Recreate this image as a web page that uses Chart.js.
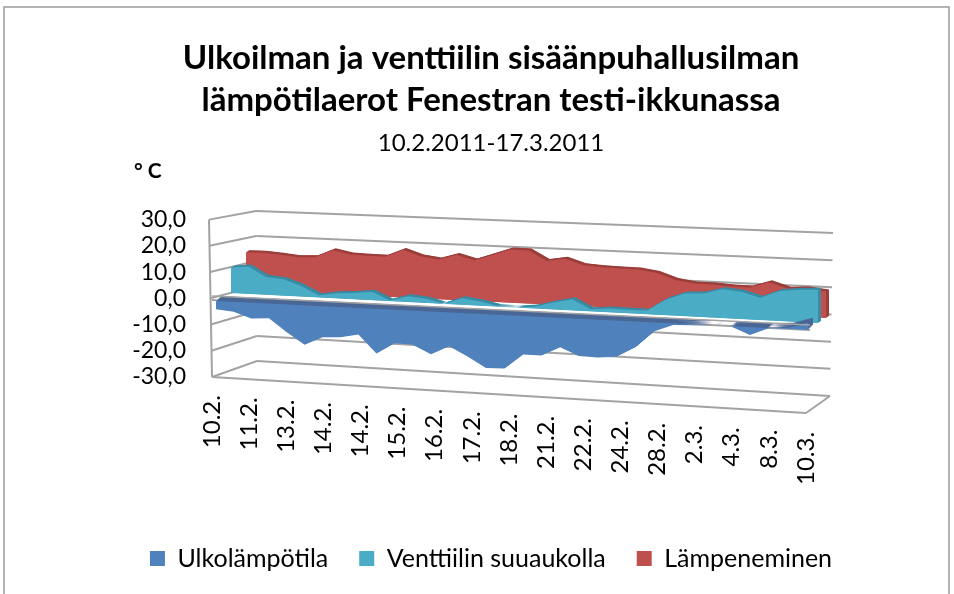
<!DOCTYPE html>
<html>
<head>
<meta charset="utf-8">
<title>Lämpötilaerot</title>
<script src="https://cdn.jsdelivr.net/npm/chart.js@4"></script>
<style>
  html, body { margin: 0; padding: 0; background: #fff; }
  #wrap { width: 954px; height: 594px; }
</style>
</head>
<body>
<div id="wrap"><canvas id="chart" width="954" height="594"></canvas></div>
<script>
// data, every second category has a label
const categories = ['10.2.', '', '11.2.', '', '13.2.', '', '14.2.', '', '14.2.', '', '15.2.', '', '16.2.', '', '17.2.', '', '18.2.', '',
  '21.2.', '', '22.2.', '', '24.2.', '', '28.2.', '', '2.3.', '', '4.3.', '', '8.3.', '', '10.3.'];
const ulkolampotila = [-3.1, -3.8, -6, -5.6, -10.5, -14.9, -11.7, -11.4, -10, -16.8, -12.6, -12.8, -16, -12.6, -16.1, -20, -19.9,
  -14.3, -14.3, -10.9, -13.8, -14, -13.3, -9.5, -3.2, -0.6, -0.3, 0, 0, -2.9, 0, 0.5, 2.6];
const venttiili = [9.7, 10.4, 6.8, 6.2, 4, 0.8, 1.9, 2.4, 3.2, 0.2, 2.2, 1.6, 0, 2.5, 1.6, 0.2, 0, 0.8, 2.6, 4.1, 0.8, 1.4, 1.3, 1.3,
  5.7, 8.3, 8.7, 10.6, 10, 8.1, 10.9, 11.7, 12.1];
const lampeneminen = [14.4, 14.5, 14, 13.4, 13.7, 16.6, 15.3, 15.1, 15.1, 17.9, 15.8, 14.9, 16.9, 15.2, 17.5, 19.9, 19.8, 16.2, 17.3,
  15.2, 14.8, 14.6, 14.5, 13.6, 11.3, 10.3, 10.3, 9.9, 9.8, 12, 10, 10.4, 9.6];
const yMin = -30;
const yMax = 30;
const yStep = 10;

const fontName = 'Lato, Carlito, sans-serif';
const gridColor = '#a3a3a3';

// where each series sits in the 3d box: left/right end of its zero line + thickness
const planes = [
  { xL: 216, xR: 808, zL: 301, zR: 330, dx: 5, dy: -5, side: '#4a6796' },
  { xL: 231, xR: 818, zL: 293, zR: 323, dx: 3, dy: -2, side: '#3a8ba3' },
  { xL: 246, xR: 826, zL: 290, zR: 318, dx: 3, dy: -2, side: '#9c3f3c' },
];
// walls of the box
const backLeft = { x: 256, top: 211, bottom: 361 };
const backRight = { x: 832, top: 233, bottom: 396 };
const frontLeftTopX = 209;
const floorFrontRight = { x: 806, y: 413 };
const floorSlope = 0.062;

function lerp(a, b, t) { return a + (b - a) * t; }

// slight perspective along the category axis
function warp(u) { return u * 0.95 / (1 - 0.05 * u); }

class Area3dController extends Chart.LineController {
  draw() {
    const chart = this.chart;
    const ctx = chart.ctx;
    const area = chart.chartArea;
    const yScale = chart.scales.y;
    const base = yScale.getPixelForValue(0);
    const plane = planes[this.index];
    const dataset = this.getDataset();

    const pts = this.getMeta().data.map(el => {
      const w = warp((el.x - area.left) / area.width);
      const zero = lerp(plane.zL, plane.zR, w);
      return { x: lerp(plane.xL, plane.xR, w), y: zero + (el.y - base) * lerp(1, 1.05, w) };
    });

    const shape = (ox, oy) => {
      ctx.beginPath();
      ctx.moveTo(plane.xL + ox, plane.zL + oy);
      pts.forEach(p => ctx.lineTo(p.x + ox, p.y + oy));
      ctx.lineTo(plane.xR + ox, plane.zR + oy);
      ctx.closePath();
      ctx.fill();
    };

    ctx.save();
    ctx.fillStyle = plane.side;
    for (let t = 6; t >= 1; t--) {
      shape(plane.dx * t / 6, plane.dy * t / 6);
    }
    ctx.fillStyle = dataset.backgroundColor;
    shape(0, 0);
    ctx.restore();
  }
}
Area3dController.id = 'area3d';
Chart.register(Area3dController);

function line(ctx, x1, y1, x2, y2) {
  ctx.beginPath();
  ctx.moveTo(x1, y1);
  ctx.lineTo(x2, y2);
  ctx.stroke();
}

const boxPlugin = {
  id: 'box',
  afterLayout(chart) {
    // tick labels follow the slope of the floor
    const area = chart.chartArea;
    chart.scales.x.getLabelItems(area).forEach(item => {
      item.options.translation[1] += (item.options.translation[0] - area.left) * floorSlope;
    });
  },
  beforeDatasetsDraw(chart) {
    const ctx = chart.ctx;
    const y = chart.scales.y;
    const area = chart.chartArea;
    const frac = v => (y.getPixelForValue(v) - area.top) / area.height;
    ctx.save();
    ctx.strokeStyle = gridColor;
    ctx.lineWidth = 2;
    for (let v = yMin; v <= yMax; v += yStep) {
      const t = frac(v);
      const fx = lerp(frontLeftTopX, area.left, t);
      const bx = lerp(backLeft.x, backLeft.x + 1, t);
      const by = lerp(backLeft.top, backLeft.bottom, t);
      line(ctx, fx, y.getPixelForValue(v), bx, by);
      line(ctx, bx, by, lerp(backRight.x + 1, backRight.x - 2, t), lerp(backRight.top, backRight.bottom, t));
    }
    line(ctx, frontLeftTopX, area.top, area.left, area.bottom);
    line(ctx, area.left, area.bottom, floorFrontRight.x, floorFrontRight.y);
    line(ctx, floorFrontRight.x, floorFrontRight.y, backRight.x - 2, backRight.bottom);
    // front edge of the zero plane, mostly hidden by the blue series
    line(ctx, area.left, planes[0].zL - 1, planes[0].xR + 2, planes[0].zR);
    ctx.restore();
  },
  afterDatasetsDraw(chart) {
    const ctx = chart.ctx;
    const p = planes[0];
    ctx.save();
    ctx.strokeStyle = gridColor;
    ctx.lineWidth = 1.6;
    // back edge of the blue band
    line(ctx, chart.chartArea.left, p.zL + p.dy, p.xR + p.dx - 3, p.zR + p.dy);
    ctx.restore();
  },
  afterDraw(chart) {
    const ctx = chart.ctx;
    ctx.save();
    ctx.strokeStyle = '#9a9a9a';
    ctx.lineWidth = 1.5;
    ctx.strokeRect(4, 7, 945, 600);
    ctx.fillStyle = '#000';
    ctx.font = 'bold 21px ' + fontName;
    ctx.textBaseline = 'middle';
    ctx.fillText('° C', 134, 171);
    ctx.restore();
  }
};

new Chart(document.getElementById('chart'), {
  type: 'area3d',
  plugins: [boxPlugin],
  data: {
    labels: categories,
    datasets: [
      { label: 'Ulkolämpötila', data: ulkolampotila, backgroundColor: '#4f81bd', borderWidth: 0, pointRadius: 0, clip: false },
      { label: 'Venttiilin suuaukolla', data: venttiili, backgroundColor: '#4bacc6', borderWidth: 0, pointRadius: 0, clip: false },
      { label: 'Lämpeneminen', data: lampeneminen, backgroundColor: '#c0504d', borderWidth: 0, pointRadius: 0, clip: false },
    ]
  },
  options: {
    responsive: false,
    animation: false,
    layout: { padding: { left: 28, top: 37, bottom: 13, right: 0 } },
    plugins: {
      tooltip: { enabled: false },
      title: {
        display: true,
        text: ['Ulkoilman ja venttiilin sisäänpuhallusilman', 'lämpötilaerot Fenestran testi-ikkunassa'],
        color: '#000',
        font: { family: fontName, size: 33, weight: 'bold', lineHeight: 1.27 },
        padding: 0
      },
      subtitle: {
        display: true,
        text: '10.2.2011-17.3.2011',
        color: '#000',
        font: { family: fontName, size: 24, weight: 'normal' },
        padding: { top: 8, bottom: 62 }
      },
      legend: {
        position: 'bottom',
        labels: { color: '#000', font: { family: fontName, size: 25 }, boxWidth: 15, boxHeight: 15, padding: 31 }
      }
    },
    scales: {
      x: {
        grid: { display: false },
        border: { display: false },
        afterFit(s) { s.height = 138; },
        ticks: { color: '#000', autoSkip: false, minRotation: 90, maxRotation: 90, padding: 11, font: { family: fontName, size: 24 } }
      },
      y: {
        min: yMin,
        max: yMax,
        grid: { display: false },
        border: { display: false },
        afterFit(s) { s.width = 184; },
        ticks: {
          stepSize: yStep,
          autoSkip: false,
          padding: 18,
          color: '#000',
          font: { family: fontName, size: 23 },
          callback: v => v.toFixed(1).replace('.', ',')
        }
      },
      // empty axis that keeps the plot clear of the right side
      rightGap: {
        type: 'linear',
        position: 'right',
        grid: { display: false },
        border: { display: false },
        ticks: { display: false },
        afterFit(s) { s.width = 148; }
      }
    }
  }
});
</script>
</body>
</html>
